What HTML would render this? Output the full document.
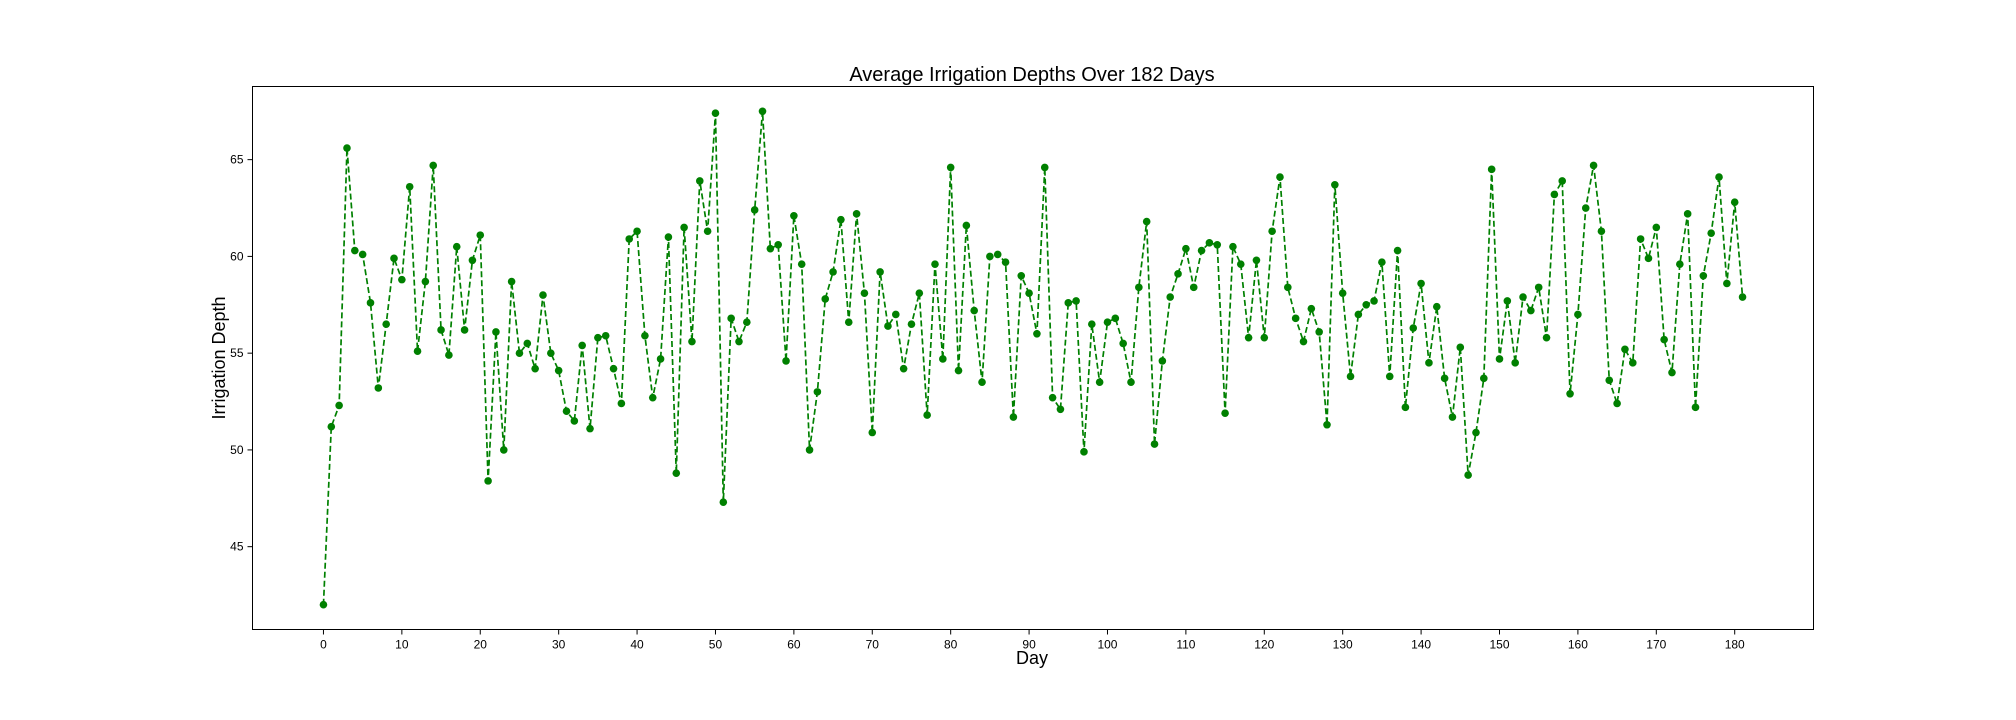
<!DOCTYPE html>
<html><head><meta charset="utf-8"><style>
html,body{margin:0;padding:0;background:#fff;}
svg{display:block;font-family:"Liberation Sans","DejaVu Sans",sans-serif;}
</style></head><body>
<svg id="chart" width="2016" height="720" viewBox="0 0 2016 720" xmlns="http://www.w3.org/2000/svg">
<rect x="0" y="0" width="2016" height="720" fill="#fff"/>
<text x="1032" y="81" text-anchor="middle" font-size="20">Average Irrigation Depths Over 182 Days</text>
<text x="1032" y="664" text-anchor="middle" font-size="18">Day</text>
<text transform="translate(225,358) rotate(-90)" text-anchor="middle" font-size="18">Irrigation Depth</text>
<g id="xticks"></g>
<g id="yticks"></g>
<g id="series"></g>
<rect x="252.5" y="86.5" width="1561" height="543" fill="none" stroke="#000" stroke-width="1"/>
</svg>
<script>
const days = Array.from({length:182},(_, i)=>i);
const depths = [42.0,51.2,52.3,65.6,60.3,60.1,57.6,53.2,56.5,59.9,58.8,63.6,55.1,58.7,64.7,56.2,54.9,60.5,56.2,59.8,61.1,48.4,56.1,50.0,58.7,55.0,55.5,54.2,58.0,55.0,54.1,52.0,51.5,55.4,51.1,55.8,55.9,54.2,52.4,60.9,61.3,55.9,52.7,54.7,61.0,48.8,61.5,55.6,63.9,61.3,67.4,47.3,56.8,55.6,56.6,62.4,67.5,60.4,60.6,54.6,62.1,59.6,50.0,53.0,57.8,59.2,61.9,56.6,62.2,58.1,50.9,59.2,56.4,57.0,54.2,56.5,58.1,51.8,59.6,54.7,64.6,54.1,61.6,57.2,53.5,60.0,60.1,59.7,51.7,59.0,58.1,56.0,64.6,52.7,52.1,57.6,57.7,49.9,56.5,53.5,56.6,56.8,55.5,53.5,58.4,61.8,50.3,54.6,57.9,59.1,60.4,58.4,60.3,60.7,60.6,51.9,60.5,59.6,55.8,59.8,55.8,61.3,64.1,58.4,56.8,55.6,57.3,56.1,51.3,63.7,58.1,53.8,57.0,57.5,57.7,59.7,53.8,60.3,52.2,56.3,58.6,54.5,57.4,53.7,51.7,55.3,48.7,50.9,53.7,64.5,54.7,57.7,54.5,57.9,57.2,58.4,55.8,63.2,63.9,52.9,57.0,62.5,64.7,61.3,53.6,52.4,55.2,54.5,60.9,59.9,61.5,55.7,54.0,59.6,62.2,52.2,59.0,61.2,64.1,58.6,62.8,57.9];
const xTicks = [0,10,20,30,40,50,60,70,80,90,100,110,120,130,140,150,160,170,180];
const yTicks = [45,50,55,60,65];

const L=252.5,R=1813.5,T=86.5,B=629.5;
const xmin=-9.05,xmax=190.05,ymin=40.72,ymax=68.78;
const xs=v=>L+(v-xmin)/(xmax-xmin)*(R-L);
const ys=v=>B-(v-ymin)/(ymax-ymin)*(B-T);
const NS="http://www.w3.org/2000/svg";
function mk(tag,attrs,parent){const e=document.createElementNS(NS,tag);for(const k in attrs)e.setAttribute(k,attrs[k]);parent.appendChild(e);return e;}
const gx=document.getElementById('xticks'),gy=document.getElementById('yticks'),gs=document.getElementById('series');
xTicks.forEach(t=>{
  const x=xs(t);
  const l=mk('line',{x1:x,x2:x,y1:B,y2:B+5,stroke:'#000','stroke-width':1},gx);
  
  
  const tx=mk('text',{x:x,y:B+19,'text-anchor':'middle','font-size':12},gx);
  tx.textContent=t;
  
  
});
yTicks.forEach(t=>{
  const y=ys(t);
  const l=mk('line',{x1:L-5,x2:L,y1:y,y2:y,stroke:'#000','stroke-width':1},gy);
  
  
  const tx=mk('text',{x:L-9,y:y+4,'text-anchor':'end','font-size':12},gy);
  tx.textContent=t;
  
  
});
const pts=depths.map((v,i)=>xs(days[i]).toFixed(2)+','+ys(v).toFixed(2)).join(' ');
const pl=mk('polyline',{points:pts,fill:'none',stroke:'#008000','stroke-width':1.7,'stroke-dasharray':'6,3'},gs);


depths.forEach((v,i)=>{
  const c=mk('circle',{cx:xs(days[i]),cy:ys(v),r:3.8,fill:'#008000'},gs);
  
  
});
</script>
</body></html>
